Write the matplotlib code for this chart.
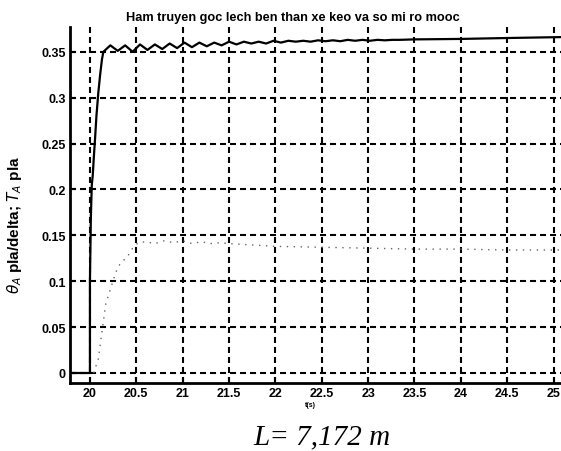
import matplotlib
matplotlib.use("Agg")
import matplotlib.pyplot as plt

# ---- data ----
t_solid = [19.785, 20.0, 20.0, 20.01, 20.02, 20.03, 20.045, 20.055, 20.07, 20.09, 20.11, 20.13, 20.145,
           20.22, 20.30, 20.38, 20.46, 20.54, 20.62, 20.70, 20.78, 20.86, 20.94, 21.02, 21.10,
           21.18, 21.26, 21.34, 21.42, 21.50, 21.58, 21.66, 21.74, 21.82, 21.90, 21.98, 22.06,
           22.14, 22.22, 22.30, 22.38, 22.46, 22.54, 22.62, 22.70, 22.78, 22.86, 22.94, 23.02,
           23.10, 23.18, 23.26, 23.34, 23.5, 24.0, 24.5, 25.08]
y_solid = [0.0, 0.0, 0.10, 0.17, 0.205, 0.215, 0.240, 0.255, 0.28, 0.305, 0.325, 0.342, 0.350,
           0.357, 0.351, 0.357, 0.350, 0.358, 0.352, 0.358, 0.353, 0.359, 0.354, 0.360, 0.355,
           0.360, 0.356, 0.360, 0.357, 0.361, 0.358, 0.361, 0.359, 0.361, 0.359, 0.362, 0.360,
           0.362, 0.361, 0.362, 0.361, 0.3625, 0.3615, 0.3625, 0.3615, 0.363, 0.362, 0.363, 0.362,
           0.363, 0.3625, 0.363, 0.363, 0.3635, 0.364, 0.365, 0.366]

t_dot = [20.04, 20.09, 20.13, 20.17, 20.21, 20.28, 20.33, 20.40, 20.46, 20.52, 20.60, 20.70,
         20.80, 20.90, 21.00, 21.10, 21.20, 21.30, 21.40, 21.50, 22.00, 22.50, 23.00, 23.50,
         24.00, 24.50, 25.08]
y_dot = [0.0, 0.015, 0.045, 0.075, 0.088, 0.110, 0.120, 0.126, 0.136, 0.142, 0.143, 0.141,
         0.144, 0.142, 0.144, 0.141, 0.143, 0.141, 0.142, 0.141, 0.138, 0.137, 0.136, 0.135,
         0.135, 0.134, 0.134]

xticks = [20, 20.5, 21, 21.5, 22, 22.5, 23, 23.5, 24, 24.5, 25]
xticklabels = ["20", "20.5", "21", "21.5", "22", "22.5", "23", "23.5", "24", "24.5", "25"]
yticks = [0, 0.05, 0.1, 0.15, 0.2, 0.25, 0.3, 0.35]
yticklabels = ["0", "0.05", "0.1", "0.15", "0.2", "0.25", "0.3", "0.35"]

title = "Ham truyen goc lech ben than xe keo va so mi ro mooc"
ylabel = r"$\theta_A$ pla/delta; $T_A$ pla"
xlabel = "t(s)"
caption = "L= 7,172 m"

W, H = 561, 452
fig = plt.figure(figsize=(W / 100, H / 100), dpi=100)
fig.patch.set_facecolor("white")
ax = fig.add_axes([70 / W, (H - 384) / H, 491 / W, (384 - 28) / H])

ax.plot(t_solid, y_solid, color="black", lw=1.6, solid_joinstyle="round")
ax.plot(t_dot, y_dot, color="#666666", lw=1.0, linestyle=(0, (1, 4)))

ax.set_xlim(19.785, 25.08)
ax.set_ylim(-0.0109, 0.377)
ax.set_xticks(xticks)
ax.set_xticklabels(xticklabels)
ax.set_yticks(yticks)
ax.set_yticklabels(yticklabels)
ax.tick_params(direction="in", length=4, width=1.5, labelsize=9, pad=3)
for lab in ax.get_xticklabels() + ax.get_yticklabels():
    lab.set_fontfamily("Liberation Sans")
    lab.set_fontweight("bold")

ax.grid(True, color="black", linestyle=(0, (2.9, 1.9)), linewidth=1.5)
ax.set_axisbelow(True)
for s in ["top", "right"]:
    ax.spines[s].set_visible(False)
for s in ["left", "bottom"]:
    ax.spines[s].set_linewidth(2)

fig.text(293 / W, 1 - 18 / H, title, ha="center", va="center", fontsize=9.2,
         fontweight="bold", family="Liberation Sans")
fig.text(15 / W, 1 - 225 / H, ylabel, ha="center", va="center", rotation=90,
         fontsize=11, fontweight="bold", family="Liberation Sans")
fig.text(310 / W, 1 - 406 / H, xlabel, ha="center", va="center", fontsize=5,
         fontweight="bold", family="Liberation Sans")
fig.text(322 / W, 1 - 437 / H, caption, ha="center", va="center", fontsize=21,
         style="italic", family="Liberation Serif")

fig.savefig("out.png", dpi=100, facecolor="white")
